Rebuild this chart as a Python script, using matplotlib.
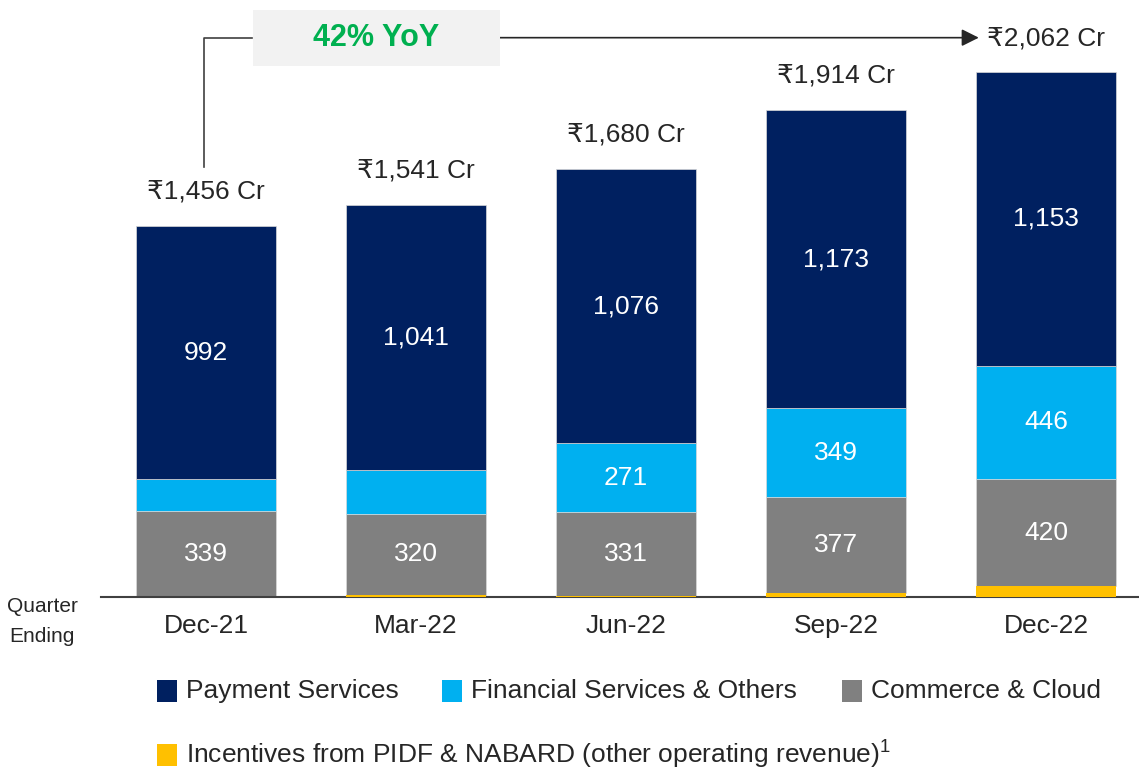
import matplotlib.pyplot as plt
from matplotlib.patches import Rectangle

plt.rcParams['font.family'] = ['Liberation Sans', 'DejaVu Sans']
plt.rcParams['mathtext.default'] = 'regular'

quarters = ['Dec-21', 'Mar-22', 'Jun-22', 'Sep-22', 'Dec-22']
incentives = [0, 7, 2, 15, 43]
commerce = [339, 320, 331, 377, 420]
financial = [125, 173, 271, 349, 446]
payment = [992, 1041, 1076, 1173, 1153]
totals = ['₹1,456 Cr', '₹1,541 Cr', '₹1,680 Cr', '₹1,914 Cr', '₹2,062 Cr']
total_vals = [1456, 1541, 1680, 1914, 2062]
# which segments get a number inside
show_fin = [False, False, True, True, True]

c_pay = '#002060'
c_fin = '#00B0F0'
c_com = '#808080'
c_inc = '#FFC000'
txt = '#262626'

fig = plt.figure(figsize=(11.39, 7.69), dpi=100)
ax = fig.add_axes([0.0887, 0.2237, 0.9113, 0.7763])

x = range(len(quarters))
w = 0.667
b1 = incentives
b2 = [a + b for a, b in zip(b1, commerce)]
b3 = [a + b for a, b in zip(b2, financial)]

ax.bar(x, commerce, w, bottom=b1, color=c_com, edgecolor='#d9d9d9', linewidth=0.5)
ax.bar(x, financial, w, bottom=b2, color=c_fin, edgecolor='#d9d9d9', linewidth=0.5)
ax.bar(x, payment, w, bottom=b3, color=c_pay, edgecolor='#d9d9d9', linewidth=0.5)
ax.bar(x, incentives, w, color=c_inc, edgecolor='none', zorder=3)

for i in x:
    ax.text(i, b1[i] + commerce[i] / 2, f'{commerce[i]:,}', ha='center', va='center',
            color='white', fontsize=19)
    if show_fin[i]:
        ax.text(i, b2[i] + financial[i] / 2, f'{financial[i]:,}', ha='center', va='center',
                color='white', fontsize=19)
    ax.text(i, b3[i] + payment[i] / 2, f'{payment[i]:,}', ha='center', va='center',
            color='white', fontsize=19)
    if i < len(quarters) - 1:
        ax.text(i, total_vals[i] + 135, totals[i], ha='center', va='center',
                color=txt, fontsize=19)

# last total sits at the arrow level
ax.text(4, 2192, totals[4], ha='center', va='center', color=txt, fontsize=19)

# YoY connector
ax.plot([-0.01, -0.01, 0.22], [1690, 2197, 2197], color='#404040', lw=1.2)
ax.annotate('', xy=(3.68, 2197), xytext=(1.40, 2197),
            arrowprops=dict(arrowstyle='-|>', color='#262626', lw=1.2,
                            mutation_scale=26, shrinkA=0, shrinkB=0))
ax.add_patch(Rectangle((0.224, 2087), 1.176, 220, facecolor='#F2F2F2',
                       edgecolor='none', zorder=3))
ax.text(0.812, 2197, '42% YoY', ha='center', va='center', color='#00B050',
        fontsize=22, fontweight='bold', zorder=4)

ax.set_xlim(-0.5, 4.443)
ax.set_ylim(0, 2345)
ax.set_xticks(list(x))
ax.set_xticklabels(quarters, fontsize=19, color=txt)
ax.tick_params(axis='x', length=0, pad=12)
ax.set_yticks([])
for s in ['top', 'right', 'left']:
    ax.spines[s].set_visible(False)
ax.spines['bottom'].set_color('#404040')
ax.spines['bottom'].set_linewidth(1.5)

fig.text(0.037, 0.192, 'Quarter\nEnding', ha='center', va='center', fontsize=15,
         color=txt, linespacing=1.75)

# legend drawn by hand
W, H = 1139, 769
legend_items = [
    (157, 691, c_pay, 'Payment Services'),
    (442, 691, c_fin, 'Financial Services & Others'),
    (842, 691, c_com, 'Commerce & Cloud'),
    (157, 755, c_inc, 'Incentives from PIDF & NABARD (other operating revenue)$^1$'),
]
for px, py, col, lab in legend_items:
    fig.patches.append(Rectangle((px / W, (H - py - 11) / H), 20 / W, 22 / H,
                                 facecolor=col, edgecolor='none',
                                 transform=fig.transFigure, figure=fig))
    fig.text((px + 29) / W, (H - py) / H, lab, ha='left', va='center',
             fontsize=19, color=txt)

fig.savefig('out.png', dpi=100)
